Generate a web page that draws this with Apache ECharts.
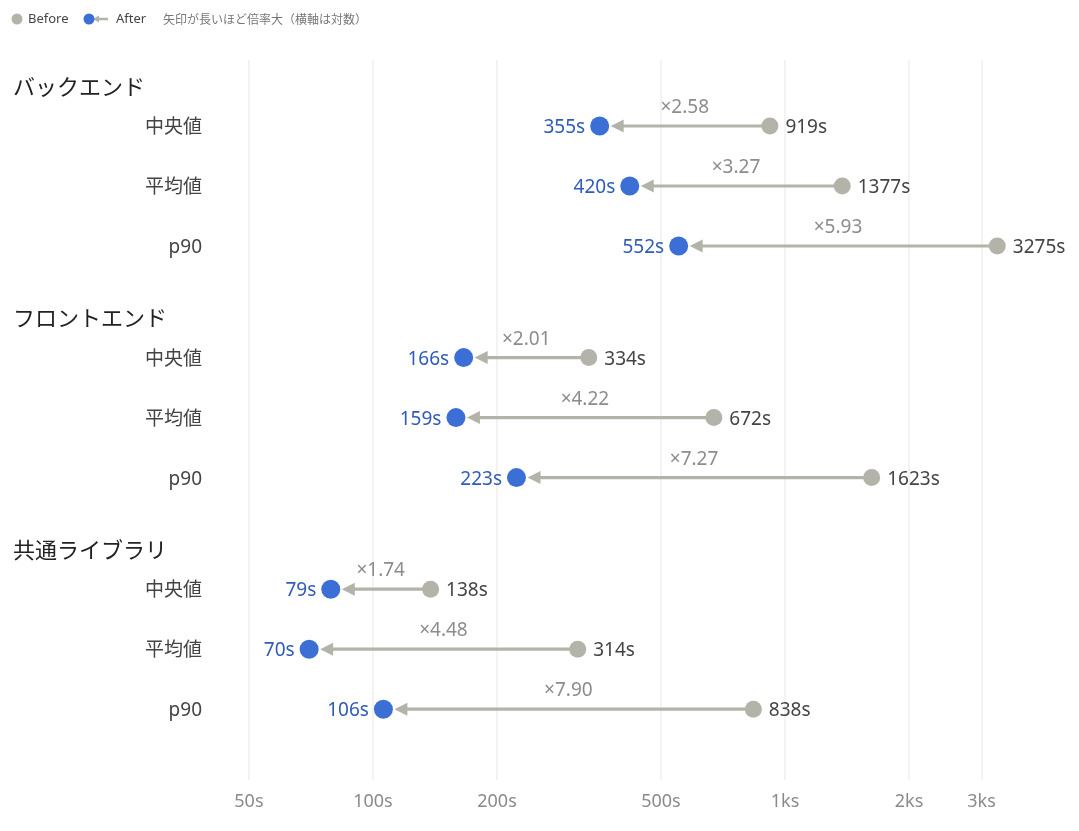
<!DOCTYPE html>
<html>
<head>
<meta charset="utf-8">
<script src="https://cdn.jsdelivr.net/npm/echarts@6/dist/echarts.min.js"></script>
<style>
html,body{margin:0;padding:0;background:#fff;}
#chart{width:1079px;height:831px;}
</style>
</head>
<body>
<div id="chart"></div>
<script>
// ---- data ----
const groups = ['バックエンド', 'フロントエンド', '共通ライブラリ'];
const metrics = ['中央値', '平均値', 'p90'];
const beforeValues = [919, 1377, 3275, 334, 672, 1623, 138, 314, 838];
const afterValues = [355, 420, 552, 166, 159, 223, 79, 70, 106];
const ratioLabels = ['2.58', '3.27', '5.93', '2.01', '4.22', '7.27', '1.74', '4.48', '7.90'];
const xTicks = [50, 100, 200, 500, 1000, 2000, 3000];
const legendNames = ['Before', 'After'];
const noteText = '矢印が長いほど倍率大（横軸は対数）';

// ---- layout helpers ----
const FONT = "'Noto Sans', 'Noto Sans CJK JP', sans-serif";
const JFONT = "'Noto Sans CJK JP', 'Noto Sans', sans-serif";
const GRAY = '#b4b3aa';
const BLUE = '#3b6fd6';
const GROUP_STEP = 3.86;
function rowPos(g, r) { return g * GROUP_STEP + r; }
function headerPos(g) { return g * GROUP_STEP - 0.66; }

const rows = [];
groups.forEach((g, gi) => metrics.forEach((m, mi) => {
  const i = gi * metrics.length + mi;
  rows.push({ g: gi, m: mi, y: rowPos(gi, mi), before: beforeValues[i], after: afterValues[i], ratio: ratioLabels[i], name: m });
}));

const chart = echarts.init(document.getElementById('chart'));

const option = {
  backgroundColor: '#fff',
  animation: false,
  grid: { left: 209, right: 6, top: 60, height: 720 },
  xAxis: {
    type: 'log', logBase: 10, min: 40, max: 5000,
    axisLine: { show: false },
    axisTick: { show: false, customValues: xTicks },
    splitLine: { show: true, lineStyle: { color: '#f1efea', width: 1.5 } },
    axisLabel: {
      customValues: xTicks,
      margin: 13,
      color: '#8a8a8a', fontSize: 18, fontFamily: FONT,
      formatter: v => v >= 1000 ? (v / 1000) + 'ks' : v + 's'
    }
  },
  yAxis: {
    type: 'value', inverse: true, min: -1.1, max: 10.9,
    show: false, splitLine: { show: false }
  },
  series: [
    {
      type: 'custom', name: 'arrows', z: 2,
      data: rows.map(r => [r.before, r.after, r.y, r.ratio]),
      renderItem: function (params, api) {
        const pb = api.coord([api.value(0), api.value(2)]);
        const pa = api.coord([api.value(1), api.value(2)]);
        const y = pb[1];
        const tip = pa[0] + 11;
        const base = tip + 13;
        const r = rows[params.dataIndex];
        return {
          type: 'group',
          children: [
            { type: 'line', shape: { x1: pb[0], y1: y, x2: base - 1, y2: y }, style: { stroke: GRAY, lineWidth: 3.2 } },
            { type: 'polygon', shape: { points: [[tip, y], [base, y - 6.5], [base, y + 6.5]] }, style: { fill: GRAY } },
            { type: 'text', x: (pb[0] + pa[0]) / 2, y: y - 18.5,
              style: { text: '×' + r.ratio, fill: '#8c8c8c', font: '19px ' + FONT, align: 'center', verticalAlign: 'middle' } }
          ]
        };
      }
    },
    {
      type: 'scatter', name: legendNames[0], z: 3,
      symbol: 'circle', symbolSize: 17,
      itemStyle: { color: GRAY, opacity: 1 },
      data: rows.map(r => [r.before, r.y]),
      label: {
        show: true, position: 'right', distance: 7, offset: [0, 1.5],
        color: '#444', fontSize: 19, fontFamily: FONT,
        formatter: p => p.value[0] + 's'
      }
    },
    {
      type: 'scatter', name: legendNames[1], z: 4,
      symbol: 'circle', symbolSize: 19,
      itemStyle: { color: BLUE, opacity: 1 },
      data: rows.map(r => [r.after, r.y]),
      label: {
        show: true, position: 'left', distance: 5, offset: [0, 1.5],
        color: '#2f5cb8', fontSize: 19, fontFamily: FONT,
        formatter: p => p.value[0] + 's'
      }
    },
    {
      type: 'custom', name: 'rowLabels', z: 1, silent: true,
      data: rows.map(r => [100, r.y]),
      renderItem: function (params, api) {
        const p = api.coord([api.value(0), api.value(1)]);
        return { type: 'text', x: 202, y: p[1] + 1.5,
          style: { text: rows[params.dataIndex].name, fill: '#444', font: '19px ' + FONT, align: 'right', verticalAlign: 'middle' } };
      }
    },
    {
      type: 'custom', name: 'groupLabels', z: 1, silent: true,
      data: groups.map((g, gi) => [100, headerPos(gi)]),
      renderItem: function (params, api) {
        const p = api.coord([api.value(0), api.value(1)]);
        return { type: 'text', x: 13, y: p[1],
          style: { text: groups[params.dataIndex], fill: '#222', font: '22px ' + JFONT, align: 'left', verticalAlign: 'middle' } };
      }
    }
  ],
  graphic: [
    { type: 'circle', shape: { cx: 17, cy: 19, r: 5.5 }, style: { fill: GRAY } },
    { type: 'text', x: 28, y: 19, style: { text: legendNames[0], fill: '#444', font: '13px ' + FONT, verticalAlign: 'middle' } },
    { type: 'line', shape: { x1: 96, y1: 19, x2: 108, y2: 19 }, style: { stroke: GRAY, lineWidth: 2.5 } },
    { type: 'polygon', shape: { points: [[93, 19], [99, 15.5], [99, 22.5]] }, style: { fill: GRAY } },
    { type: 'circle', shape: { cx: 89, cy: 19, r: 5.5 }, style: { fill: BLUE } },
    { type: 'text', x: 116, y: 19, style: { text: legendNames[1], fill: '#444', font: '13px ' + FONT, verticalAlign: 'middle' } },
    { type: 'text', x: 163, y: 19, style: { text: noteText, fill: '#777', font: '12px ' + JFONT, verticalAlign: 'middle' } }
  ]
};
chart.setOption(option);
</script>
</body>
</html>
